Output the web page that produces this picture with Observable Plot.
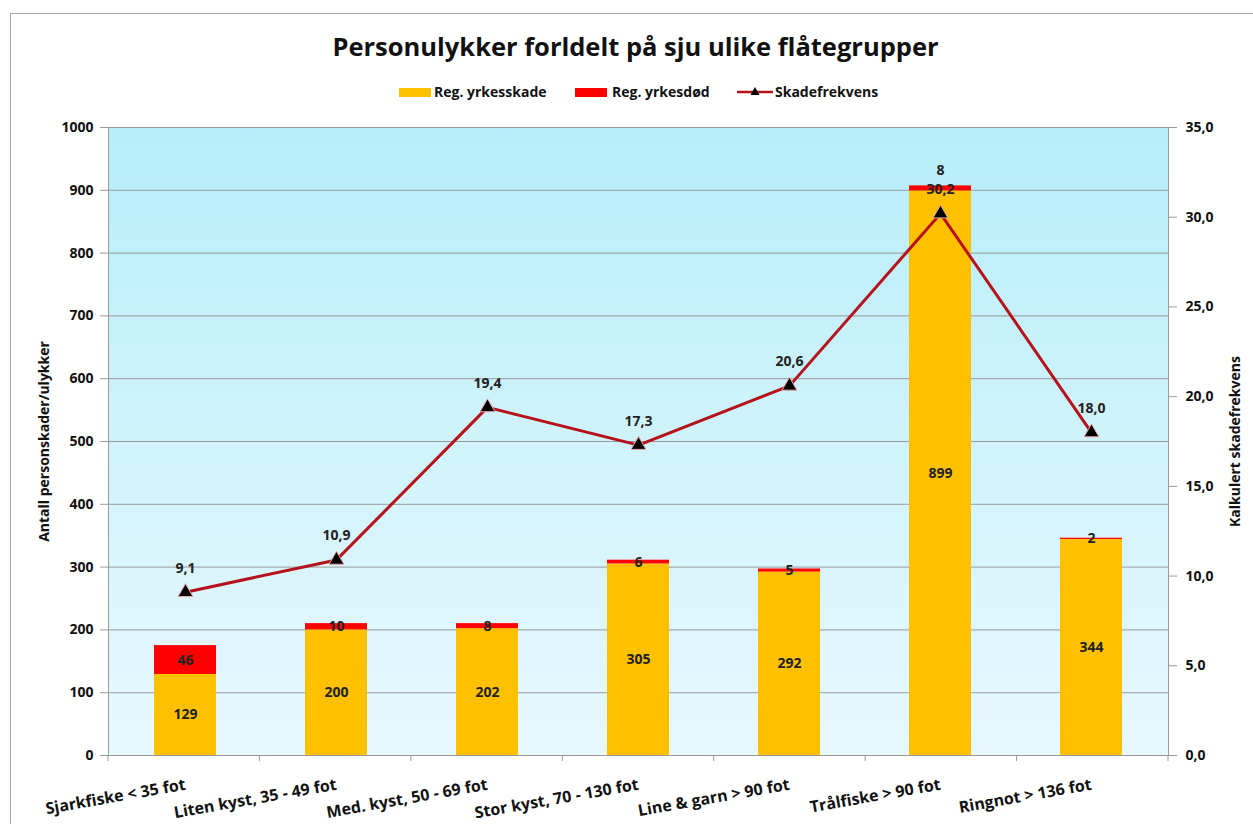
<!DOCTYPE html>
<html><head><meta charset="utf-8">
<script src="https://cdn.jsdelivr.net/npm/d3@7"></script>
<script src="https://cdn.jsdelivr.net/npm/@observablehq/plot@0.6"></script>
<style>
body{margin:0;background:#fff;font-family:"Open Sans",Lato,sans-serif;overflow:hidden}
#wrap{position:relative;width:1253px;height:824px}
#border{position:absolute;left:10px;top:13px;width:1300px;height:900px;border:1px solid #a6a6a6;box-sizing:border-box}
#title{position:absolute;left:18px;width:1235px;top:30px;text-align:center;font-weight:700;font-size:25.5px;color:#111;line-height:32px}
.lg{position:absolute;font-size:14px;font-weight:700;color:#111;top:82px;line-height:20px}
.sw{position:absolute;top:88px;width:32px;height:9px}
#chart{position:absolute;left:0;top:110px}
</style></head>
<body><div id="wrap">
<div id="border"></div>
<div id="title">Personulykker forldelt på sju ulike flåtegrupper</div>
<div class="sw" style="left:399px;background:#FFC000"></div><div class="lg" style="left:434px">Reg. yrkesskade</div>
<div class="sw" style="left:575px;background:#FF0000"></div><div class="lg" style="left:612px">Reg. yrkesdød</div>
<svg style="position:absolute;left:737px;top:84px" width="36" height="16"><line x1="0" x2="36" y1="8" y2="8" stroke="#b5121b" stroke-width="2.5"/><path d="M18,3 L22.5,11 L13.5,11 Z" fill="#000"/></svg>
<div class="lg" style="left:775px">Skadefrekvens</div>
<div id="chart"></div>
</div>
<script>
const categories = ["Sjarkfiske < 35 fot","Liten kyst, 35 - 49 fot","Med. kyst, 50 - 69 fot","Stor kyst, 70 - 130 fot","Line & garn > 90 fot","Trålfiske > 90 fot","Ringnot > 136 fot"];
const injuries = [129,200,202,305,292,899,344];
const deaths = [46,10,8,6,5,8,2];
const frequency = [9.1,10.9,19.4,17.3,20.6,30.2,18.0];
const seriesNames = ["Reg. yrkesskade","Reg. yrkesdød"];
const leftTicks = [0,100,200,300,400,500,600,700,800,900,1000];
const rightTicks = [0,5,10,15,20,25,30,35];
const leftMax = 1000, rightMax = 35;
const k = leftMax / rightMax;

const rows = categories.map((c,i)=>({cat:c, injuries:injuries[i], deaths:deaths[i], freq:frequency[i]}));
const stacked = rows.flatMap(r=>[{cat:r.cat,type:seriesNames[0],value:r.injuries},{cat:r.cat,type:seriesNames[1],value:r.deaths}]);
const maxTotal = d3.max(rows, d=>d.injuries+d.deaths);
const fmt1 = v => v.toFixed(1).replace(".", ",");
const ns = "http://www.w3.org/2000/svg";

const defsMark = () => {
  const defs = document.createElementNS(ns,"defs");
  defs.innerHTML = '<linearGradient id="bg" x1="0" y1="0" x2="0" y2="1"><stop offset="0" stop-color="#b6eefb"/><stop offset="0.5" stop-color="#d0f3fb"/><stop offset="1" stop-color="#e8f8fd"/></linearGradient>';
  return defs;
};
const boundaryTicks = (index, scales, values, dims) => {
  const g = document.createElementNS(ns,"g");
  const w = dims.width - dims.marginLeft - dims.marginRight;
  const yb = dims.height - dims.marginBottom;
  for (let i=0;i<=categories.length;i++){
    const x = dims.marginLeft + i*w/categories.length;
    const l = document.createElementNS(ns,"line");
    l.setAttribute("x1",x);l.setAttribute("x2",x);l.setAttribute("y1",yb);l.setAttribute("y2",yb+6);
    l.setAttribute("stroke","#9a9a9a");
    g.appendChild(l);
  }
  return g;
};

const chart = Plot.plot({
  width: 1253, height: 714,
  marginTop: 17, marginBottom: 69, marginLeft: 108, marginRight: 85,
  style: {fontFamily: "'Open Sans', Lato, sans-serif", color: "#111", background: "transparent"},
  x: {domain: categories, padding: 0.59, paddingOuter: 0.295},
  y: {domain: [0, leftMax]},
  color: {domain: seriesNames, range: ["#FFC000","#FF0000"]},
  marks: [
    defsMark,
    Plot.frame({fill: "url(#bg)", stroke: "#9a9a9a"}),
    Plot.ruleY(leftTicks, {stroke: "#9a9a9a", strokeWidth: 1}),
    Plot.barY(stacked, {x: "cat", y: "value", fill: "type"}),
    Plot.text(rows, {x: "cat", y: d => d.injuries/2, text: d => String(d.injuries), fontWeight: "bold", fontSize: 14, fill: "#222"}),
    Plot.text(rows.filter(d => d.injuries+d.deaths < maxTotal), {x: "cat", y: d => d.injuries + d.deaths/2, text: d => String(d.deaths), fontWeight: "bold", fontSize: 14, fill: "#222"}),
    Plot.text(rows.filter(d => d.injuries+d.deaths >= maxTotal), {x: "cat", y: d => d.injuries + d.deaths, dy: -15, text: d => String(d.deaths), fontWeight: "bold", fontSize: 14, fill: "#222"}),
    Plot.line(rows, {x: "cat", y: d => d.freq*k, stroke: "#b5121b", strokeWidth: 3}),
    Plot.dot(rows, {x: "cat", y: d => d.freq*k, symbol: "triangle", r: 5.5, fill: "#000", stroke: "#e9a3a8", strokeWidth: 1}),
    Plot.text(rows, {x: "cat", y: d => d.freq*k, dy: -24, text: d => fmt1(d.freq), fontWeight: "bold", fontSize: 14, fill: "#222"}),
    Plot.axisY(leftTicks, {anchor: "left", tickSize: 8, tickPadding: 7, stroke: "#9a9a9a", fill: "#111", fontWeight: "bold", fontSize: 14, tickFormat: d => String(d), label: null}),
    Plot.axisY(rightTicks.map(v => v*k), {anchor: "right", tickSize: 8, tickPadding: 9, stroke: "#9a9a9a", fill: "#111", fontWeight: "bold", fontSize: 14, tickFormat: v => fmt1(v/k), label: null}),
    Plot.axisX({tickSize: 0, tickRotate: -10, tickPadding: 29, fontWeight: "bold", fontSize: 16, fill: "#111", label: null}),
    boundaryTicks,
    Plot.text(["Antall personskader/ulykker"], {text: d => d, frameAnchor: "left", textAnchor: "middle", dx: -64, rotate: -90, fontWeight: "bold", fontSize: 14, fill: "#111"}),
    Plot.text(["Kalkulert skadefrekvens"], {text: d => d, frameAnchor: "right", textAnchor: "middle", dx: 67, rotate: -90, fontWeight: "bold", fontSize: 14, fill: "#111"})
  ]
});
document.getElementById("chart").appendChild(chart);
</script>
</body></html>
